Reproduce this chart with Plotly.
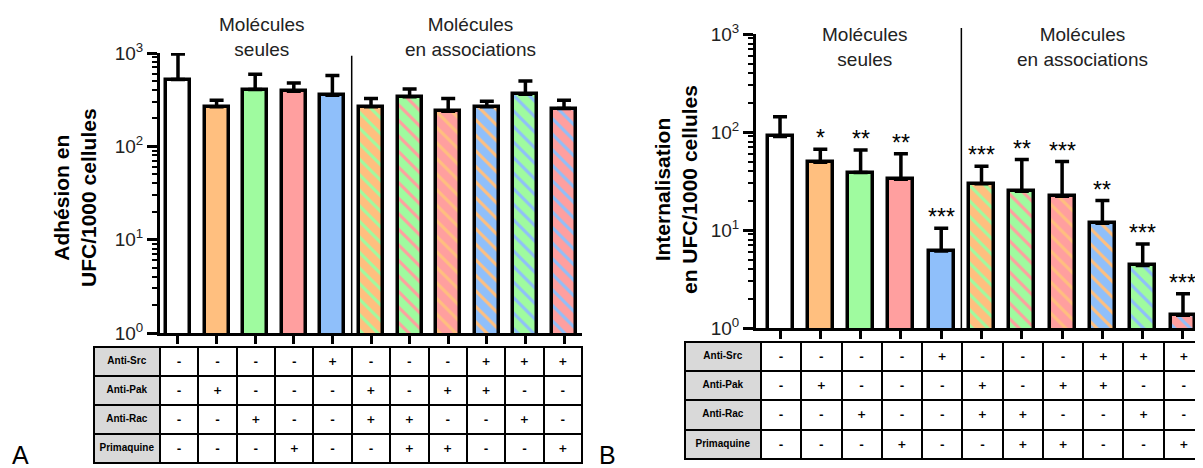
import math
import plotly.graph_objects as go

W, H = 1203, 468
OFF = 8  # page body margin offset compensation

# ---------------- data ----------------
positions = list(range(11))
adh_mean = [519, 265, 406, 389, 353, 265, 339, 238, 265, 361, 254]
adh_top = [975, 312, 592, 478, 573, 325, 412, 325, 304, 502, 312]
int_mean = [90, 49, 38.5, 33, 6.1, 29.6, 24.9, 22.1, 11.7, 4.35, 1.35]
int_top = [143, 66.6, 65.5, 60, 10.4, 44.8, 52.3, 50, 20, 7.2, 2.24]
int_stars = ["", "*", "**", "**", "***", "***", "**", "***", "**", "***", "***"]

row_labels = ["Anti-Src", "Anti-Pak", "Anti-Rac", "Primaquine"]
anti_src = ["-", "-", "-", "-", "+", "-", "-", "-", "+", "+", "+"]
anti_pak = ["-", "+", "-", "-", "-", "+", "-", "+", "+", "-", "-"]
anti_rac = ["-", "-", "+", "-", "-", "+", "+", "-", "-", "+", "-"]
primaquine = ["-", "-", "-", "+", "-", "-", "+", "+", "-", "-", "+"]

ORANGE, GREEN, PINK, BLUE = "#FFBF7F", "#9FFB9F", "#FF9F9F", "#8FBFFA"
bar_bg = ["#FFFFFF", ORANGE, GREEN, PINK, BLUE, ORANGE, GREEN, PINK, BLUE, GREEN, PINK]
# stripe colour (equal to the background for plain bars)
bar_fg = ["#FFFFFF", ORANGE, GREEN, PINK, BLUE, GREEN, PINK, ORANGE, ORANGE, BLUE, BLUE]

FONT = "Liberation Sans, Arial, sans-serif"


def px_x(p):
    return (p - OFF) / W


def px_y(p):
    return (H - (p - OFF)) / H


fig = go.Figure()


def add_bars(xa, ya, means, tops):
    fig.add_trace(go.Bar(
        x=positions, y=means, width=0.62,
        xaxis=xa, yaxis=ya,
        marker=dict(
            color="white",
            line=dict(color="black", width=3.5),
            pattern=dict(shape="\\", bgcolor=bar_bg, fgcolor=bar_fg,
                         size=11, solidity=0.28, fillmode="replace"),
        ),
        error_y=dict(type="data", symmetric=False,
                     array=[t - m for t, m in zip(tops, means)],
                     arrayminus=[0] * len(means),
                     color="black", thickness=3.5, width=7),
        showlegend=False, hoverinfo="skip",
    ))


add_bars("x", "y", adh_mean, adh_top)
add_bars("x2", "y2", int_mean, int_top)

minor_vals = [m * 10 ** e for e in range(3) for m in range(2, 10)]
tickvals = [1, 10, 100, 1000]
ticktext = ["10<sup>0</sup>", "10<sup>1</sup>", "10<sup>2</sup>", "10<sup>3</sup>"]

xcommon = dict(showline=True, linecolor="black", linewidth=3, ticks="outside",
               tickvals=positions, ticklen=8, tickwidth=2.5, tickcolor="black",
               showticklabels=False, showgrid=False, zeroline=False)
ycommon = dict(type="log", range=[0, 3], showline=True, linecolor="black", linewidth=3,
               ticks="outside", ticklen=10, tickwidth=2.5, tickcolor="black",
               tickvals=tickvals, ticktext=ticktext,
               tickfont=dict(family=FONT, size=19, color="#222"),
               minor=dict(tickmode="array", tickvals=minor_vals, ticks="outside",
                          ticklen=5, tickwidth=2, tickcolor="black", showgrid=False),
               showgrid=False, zeroline=False)

fig.update_layout(
    width=W, height=H, margin=dict(l=0, r=0, t=0, b=0, pad=0, autoexpand=False),
    paper_bgcolor="white", plot_bgcolor="white",
    xaxis=dict(domain=[px_x(160), px_x(582)], range=[-0.466, 10.466], anchor="y", **xcommon),
    yaxis=dict(domain=[px_y(333), px_y(53)], anchor="x", **ycommon),
    xaxis2=dict(domain=[px_x(756), 1.0], range=[-0.596, 10.695], anchor="y2", **xcommon),
    yaxis2=dict(domain=[px_y(328), px_y(34)], anchor="x2", **ycommon),
    bargap=0,
)

# dividers between groups
fig.add_shape(type="line", xref="x", yref="y domain", x0=4.5, x1=4.5, y0=0, y1=0.99,
              line=dict(color="black", width=1.5))
fig.add_shape(type="line", xref="x2", yref="y2 domain", x0=4.5, x1=4.5, y0=0, y1=1.02,
              line=dict(color="black", width=1.5))

annots = []
hdr = dict(xref="paper", yref="paper", showarrow=False, xanchor="center", yanchor="middle",
           font=dict(family=FONT, size=19, color="#222"))
annots.append(dict(x=px_x(262), y=px_y(37), text="Molécules<br>seules", **hdr))
annots.append(dict(x=px_x(470), y=px_y(37), text="Molécules<br>en associations", **hdr))
annots.append(dict(x=px_x(865), y=px_y(47), text="Molécules<br>seules", **hdr))
annots.append(dict(x=px_x(1082), y=px_y(47), text="Molécules<br>en associations", **hdr))

ttl = dict(xref="paper", yref="paper", showarrow=False, xanchor="center", yanchor="middle",
           textangle=-90, font=dict(family=FONT, size=21, color="black"))
annots.append(dict(x=px_x(75), y=px_y(198), text="<b>Adhésion en<br>UFC/1000 cellules</b>", **ttl))
annots.append(dict(x=px_x(676), y=px_y(190), text="<b>Internalisation<br>en UFC/1000 cellules</b>", **ttl))

for i, s in enumerate(int_stars):
    if s:
        annots.append(dict(x=positions[i], y=math.log10(int_top[i]), xref="x2", yref="y2",
                           text=s, showarrow=False, yanchor="bottom", yshift=-4,
                           font=dict(family=FONT, size=23, color="black")))

letters = dict(xref="paper", yref="paper", showarrow=False, xanchor="center", yanchor="middle",
               font=dict(family=FONT, size=25, color="black"))
annots.append(dict(x=px_x(20), y=px_y(455), text="A", **letters))
annots.append(dict(x=px_x(607), y=px_y(455), text="B", **letters))
fig.update_layout(annotations=annots)


def add_table(x0, ytop, rowh, labw, colw, lab_size, sign_size):
    cols = list(zip(anti_src, anti_pak, anti_rac, primaquine))
    header_vals = ["<b>" + row_labels[0] + "</b>"] + ["<b>" + c[0] + "</b>" for c in cols]
    cell_vals = [["<b>" + r + "</b>" for r in row_labels[1:]]] + \
                [["<b>" + v + "</b>" for v in c[1:]] for c in cols]
    fills = ["#D9D9D9"] + ["white"] * len(cols)
    sizes = [lab_size] + [sign_size] * len(cols)
    fams = [FONT] + ["DejaVu Sans"] * len(cols)
    x1 = min(1.0, px_x(x0 + labw + colw * len(cols)))
    fig.add_trace(go.Table(
        domain=dict(x=[px_x(x0), x1],
                    y=[max(0, px_y(ytop + 4 * rowh + 4)), px_y(ytop)]),
        columnwidth=[labw] + [colw] * len(cols),
        header=dict(values=header_vals, height=rowh, align="center",
                    fill=dict(color=fills), line=dict(color="black", width=2),
                    font=dict(family=fams, size=sizes, color="black")),
        cells=dict(values=cell_vals, height=rowh, align="center",
                   fill=dict(color=fills), line=dict(color="black", width=2),
                   font=dict(family=fams, size=sizes, color="black")),
    ))


add_table(94, 347, 28.3, 66, 38.4, 10, 11)
add_table(685, 342, 29.2, 76, 40.3, 10, 11)

fig.write_html("out.html")
